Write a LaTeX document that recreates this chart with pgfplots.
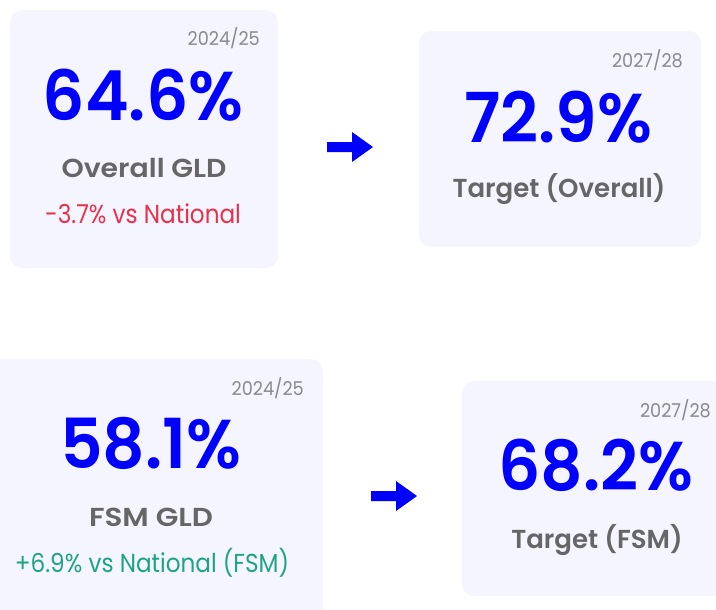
\documentclass[border=0pt]{standalone}
\usepackage{pgfplots}
\pgfplotsset{compat=1.18}
\usepackage{fontspec}
\setmainfont{Poppins}
\newfontfamily\pbig[FakeStretch=0.96]{Poppins SemiBold}
\newfontfamily\plab{Poppins SemiBold}
\newfontfamily\plabw[FakeStretch=1.09]{Poppins SemiBold}
\newfontfamily\plabww[FakeStretch=1.13]{Poppins SemiBold}
\newfontfamily\pdel[FakeStretch=0.89]{Poppins}
\newfontfamily\pyear[FakeStretch=0.93]{Poppins}
\definecolor{cardbg}{HTML}{F4F5FE}
\definecolor{kpiblue}{HTML}{0000FF}
\definecolor{labgray}{HTML}{666666}
\definecolor{yeargray}{HTML}{8A8A8A}
\definecolor{negred}{HTML}{E8304A}
\definecolor{posgreen}{HTML}{1FA386}
\begin{document}
\begin{tikzpicture}
\path[use as bounding box] (0,0) rectangle (716bp,610bp);
\clip (0,0) rectangle (716bp,610bp);
\begin{axis}[at={(0,0)}, anchor=south west, scale only axis,
  width=716bp, height=610bp, xmin=0, xmax=716, ymin=0, ymax=610,
  y dir=reverse, hide axis, clip=false]
\addplot[draw=none] coordinates {(0,0) (716,610)};
% cards
\fill[cardbg, rounded corners=12bp] (axis cs:10,10) rectangle (axis cs:278,268);
\fill[cardbg, rounded corners=12bp] (axis cs:419,31) rectangle (axis cs:701,247);
\fill[cardbg, rounded corners=12bp] (axis cs:-20,359) rectangle (axis cs:323,640);
\fill[cardbg, rounded corners=12bp] (axis cs:462,381) rectangle (axis cs:760,596);
% arrows
\fill[kpiblue] (axis cs:327,142) -- (axis cs:352,142) -- (axis cs:352,132) -- (axis cs:373,147) -- (axis cs:352,162) -- (axis cs:352,152) -- (axis cs:327,152) -- cycle;
\fill[kpiblue] (axis cs:371,491) -- (axis cs:396,491) -- (axis cs:396,481) -- (axis cs:417,496) -- (axis cs:396,511) -- (axis cs:396,501) -- (axis cs:371,501) -- cycle;
% card 1
\node[anchor=base east, text=yeargray, inner sep=0pt, font=\fontsize{19bp}{22bp}\selectfont\pyear] at (axis cs:260,45.5) {2024/25};
\node[anchor=base, text=kpiblue, inner sep=0pt, font=\fontsize{69bp}{80bp}\selectfont\pbig] at (axis cs:143,120) {64.6\%};
\node[anchor=base, text=labgray, inner sep=0pt, font=\fontsize{26bp}{30bp}\selectfont\plabw] at (axis cs:144,177) {Overall GLD};
\node[anchor=base, text=negred, inner sep=0pt, font=\fontsize{26bp}{30bp}\selectfont\pdel] at (axis cs:143,223) {-3.7\% vs National};
% card 2
\node[anchor=base east, text=yeargray, inner sep=0pt, font=\fontsize{19bp}{22bp}\selectfont\pyear] at (axis cs:683,67) {2027/28};
\node[anchor=base, text=kpiblue, inner sep=0pt, font=\fontsize{69bp}{80bp}\selectfont\pbig] at (axis cs:558,142) {72.9\%};
\node[anchor=base, text=labgray, inner sep=0pt, font=\fontsize{26bp}{30bp}\selectfont\plab] at (axis cs:559,197) {Target (Overall)};
% card 3
\node[anchor=base east, text=yeargray, inner sep=0pt, font=\fontsize{19bp}{22bp}\selectfont\pyear] at (axis cs:304,395) {2024/25};
\node[anchor=base, text=kpiblue, inner sep=0pt, font=\fontsize{69bp}{80bp}\selectfont\pbig] at (axis cs:151,468) {58.1\%};
\node[anchor=base, text=labgray, inner sep=0pt, font=\fontsize{26bp}{30bp}\selectfont\plabww] at (axis cs:151,526) {FSM GLD};
\node[anchor=base, text=posgreen, inner sep=0pt, font=\fontsize{26bp}{30bp}\selectfont\pdel] at (axis cs:152,572) {+6.9\% vs National (FSM)};
% card 4
\node[anchor=base east, text=yeargray, inner sep=0pt, font=\fontsize{19bp}{22bp}\selectfont\pyear] at (axis cs:711,417) {2027/28};
\node[anchor=base, text=kpiblue, inner sep=0pt, font=\fontsize{69bp}{80bp}\selectfont\pbig] at (axis cs:596,490) {68.2\%};
\node[anchor=base, text=labgray, inner sep=0pt, font=\fontsize{26bp}{30bp}\selectfont\plab] at (axis cs:597,548) {Target (FSM)};
\end{axis}
\end{tikzpicture}
\end{document}
